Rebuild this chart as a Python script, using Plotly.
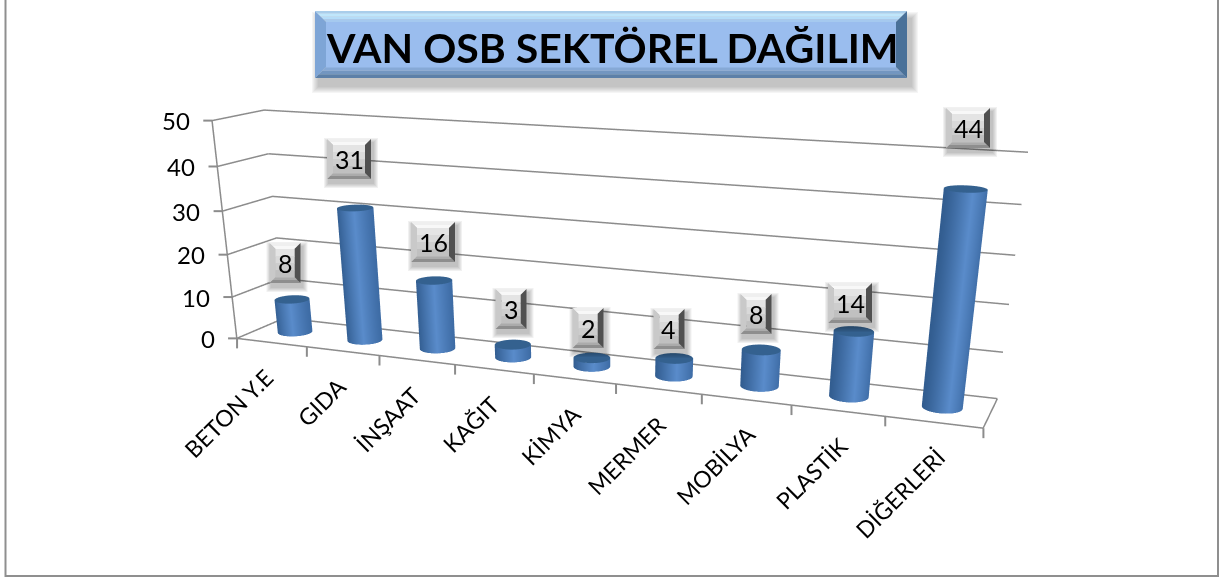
import numpy as np
import plotly.graph_objects as go

categories = ["BETON Y.E", "GIDA", "İNŞAAT", "KAĞIT", "KİMYA", "MERMER", "MOBİLYA", "PLASTİK", "DİĞERLERİ"]
values = [8, 31, 16, 3, 2, 4, 8, 14, 44]
z_ticks = [0, 10, 20, 30, 40, 50]
title_text = "VAN OSB SEKTÖREL DAĞILIM"
label_centres = [(285, 263), (349, 159), (433, 242), (511, 309), (588, 328), (669, 329), (756, 314), (850, 303), (968, 128)]

# The 3-D scene needs a longer focal length than a 578 px tall viewport gives
# (Plotly's field of view is fixed), so the figure is taller and the page clips it to the window.
W, H = 1224, 1169
F = (H/2)/np.tan(np.pi/8)
EYE = np.array([0.6656, -1.6199, 0.3806])
CEN = np.array([0.3671, -0.8763, 0.0])
UP = np.array([0, 0, 1.0])
ay, az, cx = 0.1157, 0.2846, 603.2443

fw = CEN-EYE; fw = fw/np.linalg.norm(fw)
rv = np.cross(fw, UP); rv = rv/np.linalg.norm(rv)
uv = np.cross(rv, fw)

def project(x, y, z):
    v = np.array([x/9-.5, (y-.5)*ay, (z/50-.5)*az])-EYE
    zc = v@fw
    return cx+F*(v@rv)/zc, H/2-F*(v@uv)/zc

fig = go.Figure()
GRID = '#8c8c8c'
def add_line(xs, ys, zs):
    fig.add_scatter3d(x=xs, y=ys, z=zs, mode='lines', line=dict(color=GRID, width=3), hoverinfo='skip')
for z in z_ticks:
    add_line([0, 0, 9], [0, 1, 1], [z, z, z])
add_line([0, 9, 9], [0, 0, 1], [0, 0, 0])
add_line([0, 0], [0, 0], [0, 50])

R = 0.0235
theta = np.linspace(0, 2*np.pi, 73); nx, ny = np.cos(theta), np.sin(theta)
shade = (nx*rv[0]+ny*rv[1])/np.hypot(rv[0], rv[1])
scale = [[0, '#325d90'], [0.55, '#5a8ccb'], [1, '#3e6ca5']]
light = dict(ambient=1, diffuse=0, specular=0, roughness=1, fresnel=0)
for i, v in enumerate(values):
    xc = i+.5
    X = np.array([xc+R*9*nx]*2); Y = np.array([.5+R/ay*ny]*2); Z = np.array([np.zeros_like(nx), np.full_like(nx, v)])
    fig.add_surface(x=X, y=Y, z=Z, surfacecolor=np.array([shade, shade]), colorscale=scale, cmin=-1, cmax=1, showscale=False, lighting=light, hoverinfo='skip')
    rr = np.array([np.zeros_like(nx), np.ones_like(nx)])
    fig.add_surface(x=xc+R*9*rr*nx, y=.5+R/ay*rr*ny, z=np.full_like(rr, v), surfacecolor=np.zeros_like(rr), colorscale=[[0, '#34618f'], [1, '#34618f']], showscale=False, lighting=light, hoverinfo='skip')

FONT = 'Lato'
ann = [dict(x=i+.5, y=0, z=0, text=c, textangle=-45, showarrow=False, xanchor='right', yanchor='top', xshift=10+1.2*i, yshift=-18, font=dict(family=FONT, size=23, color='black')) for i, c in enumerate(categories)]
ann += [dict(x=0, y=0, z=z, text=str(z), showarrow=False, xanchor='right', yanchor='middle', xshift=-20, font=dict(family=FONT, size=24, color='black')) for z in z_ticks]
axis = dict(showbackground=False, showspikes=False, title=dict(text=''), zeroline=False, showgrid=False, showticklabels=False, ticks='', showline=False)

def pxx(x): return x/W
def pyy(y): return 1-y/H
def rect(x0, y0, x1, y1, fill, layer='above'):
    return dict(type='rect', xref='paper', yref='paper', x0=pxx(x0), x1=pxx(x1), y0=pyy(y1), y1=pyy(y0), fillcolor=fill, line=dict(width=0), layer=layer)
def poly(p, fill):
    d = 'M'+' L'.join(f'{pxx(a):.5f},{pyy(b):.5f}' for a, b in p)+' Z'
    return dict(type='path', xref='paper', yref='paper', path=d, fillcolor=fill, line=dict(width=0), layer='above')
def strips(x0, y0, x1, y1, cols):
    n = len(cols); h = (y1-y0)/n
    return [rect(x0, y0+k*h, x1, y0+(k+1)*h+.5, c) for k, c in enumerate(cols)]
def bevel_box(x0, y0, x1, y1, b, face, top, left, right, bottom, shadow, soft):
    out = []
    for k in range(soft, 0, -1):
        out.append(rect(x0+shadow[0]-k, y0+shadow[1]-k, x1+shadow[0]+k, y1+shadow[1]+k, f'rgba(0,0,0,{0.28/soft:.3f})'))
    m = len(top)
    for k, c in enumerate(top):
        a, a2 = b*k/m, b*(k+1)/m
        out.append(poly([(x0+a, y0+a), (x1-a, y0+a), (x1-a2, y0+a2), (x0+a2, y0+a2)], c))
    m = len(bottom)
    for k, c in enumerate(bottom):
        a, a2 = b*k/m, b*(k+1)/m
        out.append(poly([(x0+a, y1-a), (x1-a, y1-a), (x1-a2, y1-a2), (x0+a2, y1-a2)], c))
    out.append(poly([(x0, y0), (x0+b, y0+b), (x0+b, y1-b), (x0, y1)], left))
    out.append(poly([(x1, y0), (x1-b, y0+b), (x1-b, y1-b), (x1, y1)], right))
    out += strips(x0+b, y0+b, x1-b, y1-b, face)
    return out

shapes = [dict(type='rect', xref='paper', yref='paper', x0=pxx(5.5), x1=pxx(1218), y0=pyy(576), y1=pyy(-5), line=dict(color='#8f8f8f', width=2), fillcolor='white', layer='below')]
for i in range(10):
    a, b = project(i, 0, 0)
    shapes.append(dict(type='line', xref='paper', yref='paper', x0=pxx(a), x1=pxx(a), y0=pyy(b), y1=pyy(b+10), line=dict(color=GRID, width=2), layer='above'))
for z in z_ticks:
    a, b = project(0, 0, z)
    shapes.append(dict(type='line', xref='paper', yref='paper', x0=pxx(a-9), x1=pxx(a), y0=pyy(b), y1=pyy(b), line=dict(color=GRID, width=2), layer='above'))
shapes += bevel_box(315, 11, 907, 78, 11, ['#9abdee'], ['#a9cdea', '#bfe6fb', '#b4dcf8', '#a5c9ef'], '#7ea5d6', '#4a7199', ['#5d80a8', '#7396c0', '#86a9d6'], (4, 8), 7)
top_ann = [dict(x=pxx(612), y=pyy(47), xref='paper', yref='paper', xanchor='center', yanchor='middle', text=f'<b>{title_text}</b>', showarrow=False, font=dict(family=FONT, size=41, color='black'))]
for v, (cxp, cyp) in zip(values, label_centres):
    hw = 22 if v >= 10 else 15.5
    shapes += bevel_box(cxp-hw, cyp-20, cxp+hw, cyp+20, 6, ['#e4e4e4', '#d9d9d9', '#cdcdcd', '#c0c0c0'], ['#efefef', '#f8f8f8'], '#c9c9c9', '#505050', ['#8e8e8e', '#ababab'], (2, 4), 5)
    top_ann.append(dict(x=pxx(cxp), y=pyy(cyp), xref='paper', yref='paper', xanchor='center', yanchor='middle', text=str(v), showarrow=False, font=dict(family=FONT, size=25, color='black')))

fig.update_layout(width=W, height=H, margin=dict(l=0, r=0, t=0, b=0), paper_bgcolor='white', showlegend=False,
    scene=dict(domain=dict(x=[0, min(1, 2*cx/W)], y=[0, 1]), aspectmode='manual', aspectratio=dict(x=1, y=ay, z=az), bgcolor='rgba(0,0,0,0)',
        camera=dict(eye=dict(x=EYE[0], y=EYE[1], z=EYE[2]), center=dict(x=CEN[0], y=CEN[1], z=0), up=dict(x=0, y=0, z=1)),
        xaxis=dict(axis, range=[0, 9]), yaxis=dict(axis, range=[0, 1]), zaxis=dict(axis, range=[0, 50]), annotations=ann),
    shapes=shapes, annotations=top_ann)
post = ("document.body.style.margin='0';document.documentElement.style.overflow='hidden';document.body.style.overflow='hidden';"
        "document.body.style.height='578px';")
fig.write_html("out.html", config=dict(displayModeBar=False), post_script=post)
